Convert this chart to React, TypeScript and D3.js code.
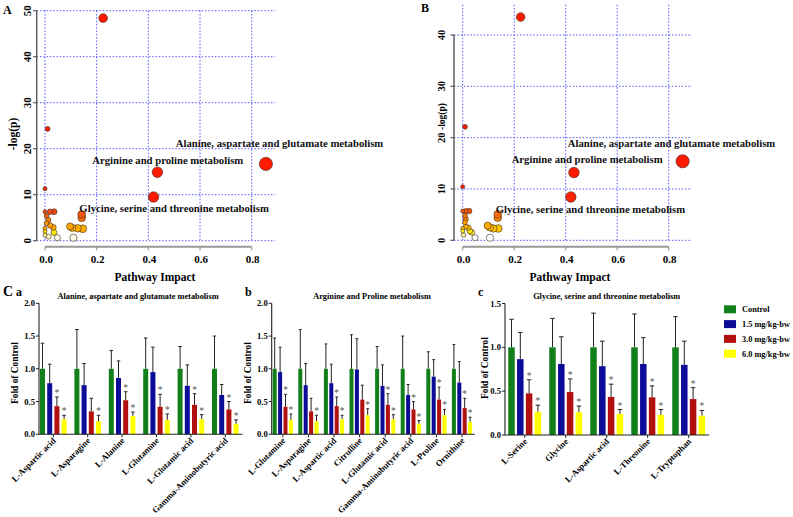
import React from "react";
import * as d3 from "d3";

const W = 793;
const H = 517;
const FONT = "'Liberation Serif', 'Times New Roman', serif";

// ---------- Panel A / B : pathway analysis ----------
const impactA = [0.225, 0.01, 0.0, 0.435, 0.42, 0.855, 0.0, 0.02, 0.035, 0.006, 0.013, 0.006, 0.02, 0.032, 0.0, 0.0, 0.0, 0.035, 0.014, 0.048, 0.11, 0.097, 0.105, 0.126, 0.146, 0.142, 0.142];
const logpA = [48.4, 24.3, 11.3, 14.9, 9.5, 16.7, 6.3, 6.3, 6.3, 5.4, 4.5, 3.8, 3.3, 2.9, 2.7, 2.0, 1.2, 1.8, 0.9, 0.65, 0.65, 3.1, 2.8, 2.7, 2.6, 5.0, 5.7];
const impactB = [0.225, 0.009, 0.0, 0.432, 0.42, 0.854, 0.0, 0.012, 0.025, 0.009, 0.012, 0.009, 0.012, 0.022, 0.0, 0.0, 0.028, 0.035, 0.003, 0.048, 0.106, 0.097, 0.106, 0.119, 0.138, 0.136, 0.136];
const logpB = [43.5, 22.1, 10.45, 13.2, 8.44, 15.4, 5.7, 5.7, 5.7, 4.8, 4.15, 3.5, 2.65, 2.45, 2.3, 1.8, 1.8, 1.55, 1.03, 0.5, 0.5, 2.85, 2.5, 2.3, 2.3, 4.4, 5.05];
const impactTicks = [0, 0.2, 0.4, 0.6, 0.8];
const logpTicksA = [0, 10, 20, 30, 40, 50];
const logpTicksB = [0, 10, 20, 30, 40];
const pathwayNames = [
  "Alanine, aspartate and glutamate metabolism",
  "Arginine and proline metabolism",
  "Glycine, serine and threonine metabolism",
];
const annotImpactA = [0.506, 0.183, 0.133];
const annotLogpA = [20.43, 16.67, 6.3];
const annotImpactB = [0.408, 0.19, 0.128];
const annotLogpB = [18.25, 15.13, 5.26];

// ---------- Panel C : bar charts ----------
const seriesNames = ["Control", "1.5 mg/kg-bw", "3.0 mg/kg-bw", "6.0 mg/kg-bw"];
const seriesColors = ["#12801a", "#0c0c98", "#b2100f", "#ffff00"];

const catsCa = ["L-Aspartic acid", "L-Asparagine", "L-Alanine", "L-Glutamine", "L-Glutamic acid", "Gamma-Aminobutyric acid"];
const meanCa = [
  [1.0, 0.78, 0.43, 0.23],
  [1.0, 0.75, 0.35, 0.2],
  [1.0, 0.86, 0.52, 0.28],
  [1.0, 0.95, 0.42, 0.22],
  [1.0, 0.74, 0.45, 0.23],
  [1.0, 0.6, 0.38, 0.16],
];
const upperCa = [
  [1.39, 1.07, 0.57, 0.29],
  [1.6, 1.08, 0.55, 0.29],
  [1.28, 1.12, 0.65, 0.34],
  [1.47, 1.33, 0.61, 0.31],
  [1.34, 1.06, 0.62, 0.3],
  [1.5, 0.76, 0.5, 0.22],
];
const sigCa = [
  [0, 0, 1, 1],
  [0, 0, 0, 1],
  [0, 0, 1, 1],
  [0, 0, 1, 1],
  [0, 0, 1, 1],
  [0, 0, 1, 1],
];

const catsCb = ["L-Glutamine", "L-Asparagine", "L-Aspartic acid", "Citrulline", "L-Glutamic acid", "Gamma-Aminobutyric acid", "L-Proline", "Ornithine"];
const meanCb = [
  [1.0, 0.95, 0.42, 0.22],
  [1.0, 0.75, 0.35, 0.2],
  [1.0, 0.78, 0.43, 0.23],
  [1.0, 0.99, 0.53, 0.29],
  [1.0, 0.74, 0.45, 0.23],
  [1.0, 0.6, 0.38, 0.16],
  [1.0, 0.88, 0.53, 0.29],
  [1.0, 0.79, 0.4, 0.19],
];
const upperCb = [
  [1.47, 1.33, 0.61, 0.31],
  [1.6, 1.08, 0.55, 0.29],
  [1.38, 1.07, 0.57, 0.29],
  [1.52, 1.46, 0.75, 0.39],
  [1.34, 1.06, 0.62, 0.3],
  [1.5, 0.76, 0.5, 0.21],
  [1.26, 1.14, 0.72, 0.38],
  [1.37, 1.11, 0.55, 0.26],
];
const sigCb = [
  [0, 0, 1, 1],
  [0, 0, 0, 1],
  [0, 0, 1, 1],
  [0, 0, 0, 1],
  [0, 0, 1, 1],
  [0, 0, 1, 1],
  [0, 0, 1, 1],
  [0, 0, 1, 1],
];

const catsCc = ["L-Serine", "Glycine", "L-Aspartic acid", "L-Threonine", "L-Tryptophan"];
const meanCc = [
  [1.0, 0.865, 0.475, 0.265],
  [1.0, 0.81, 0.49, 0.26],
  [1.0, 0.785, 0.434, 0.24],
  [1.0, 0.81, 0.43, 0.23],
  [1.0, 0.8, 0.41, 0.22],
];
const upperCc = [
  [1.32, 1.17, 0.63, 0.34],
  [1.33, 1.12, 0.64, 0.33],
  [1.39, 1.07, 0.58, 0.29],
  [1.38, 1.11, 0.56, 0.29],
  [1.35, 1.07, 0.54, 0.28],
];
const sigCc = [
  [0, 0, 1, 1],
  [0, 0, 1, 1],
  [0, 0, 1, 1],
  [0, 0, 1, 1],
  [0, 0, 1, 1],
];
const foldTicksAB = [0, 0.5, 1.0, 1.5, 2.0];
const foldTicksC = [0, 0.5, 1.0, 1.5];

const colorScale = d3
  .scaleLinear<string>()
  .domain([0.5, 1.0, 1.8, 2.6, 4.2, 6, 9])
  .range(["#ffffff", "#fff8b0", "#ffee00", "#ffb000", "#ff8c00", "#f24c10", "#ff1a00"])
  .clamp(true);
const radiusScale = d3.scaleSqrt().domain([0, 0.86]).range([2, 6.6]);

type BubbleProps = {
  impact: number[];
  logp: number[];
  xr: [number, number];
  yr: [number, number];
  yMaxTick: number;
  yTicks: number[];
  gridTop: number;
  axisX: number;
  tickLabelX: number;
  tickFont: number;
  annX: number[];
  annY: number[];
  ylabX: number;
  ylabY: number;
  ylabFont: number;
  letter: string;
  letterX: number;
  letterY: number;
  pathX: number;
};

function BubblePanel(p: BubbleProps) {
  const x = d3.scaleLinear().domain([0, 0.8]).range(p.xr);
  const y = d3.scaleLinear().domain([0, p.yMaxTick]).range(p.yr);
  const gridL = x.invert(p.axisX);
  const gridR = 0.89;
  const axisY = 246.7;
  const pts = p.impact.map((v, i) => ({ ix: v, lp: p.logp[i] }));
  const sorted = [...pts].sort((a, b) => radiusScale(b.ix) - radiusScale(a.ix));
  return (
    <g>
      <text x={p.letterX} y={p.letterY} fontFamily={FONT} fontWeight="bold" fontSize={12}>{p.letter}</text>
      {p.yTicks.map((t) => (
        <line key={"h" + t} x1={x(gridL)} x2={x(gridR)} y1={y(t)} y2={y(t)} stroke="#4646ff" strokeWidth={0.9} strokeDasharray="1.5 1.8" />
      ))}
      {impactTicks.map((t) => (
        <line key={"v" + t} x1={x(t)} x2={x(t)} y1={y(p.gridTop)} y2={y(0)} stroke="#4646ff" strokeWidth={0.9} strokeDasharray="1.5 1.8" />
      ))}
      <line x1={p.axisX} x2={p.axisX} y1={y(p.yTicks[p.yTicks.length - 1])} y2={y(0)} stroke="#555" strokeWidth={1.4} />
      {p.yTicks.map((t) => (
        <g key={"yt" + t}>
          <line x1={p.axisX - 3.5} x2={p.axisX} y1={y(t)} y2={y(t)} stroke="#555" strokeWidth={1.2} />
          <text transform={`translate(${p.tickLabelX},${y(t)}) rotate(-90)`} textAnchor="middle" fontFamily={FONT} fontWeight="bold" fontSize={p.tickFont}>{t}</text>
        </g>
      ))}
      <line x1={x(0)} x2={x(0.8)} y1={axisY} y2={axisY} stroke="#999" strokeWidth={2} />
      {impactTicks.map((t) => (
        <g key={"xt" + t}>
          <line x1={x(t)} x2={x(t)} y1={axisY} y2={axisY + 3.5} stroke="#999" strokeWidth={1.2} />
          <text x={x(t) + 1} y={263} textAnchor="middle" fontFamily={FONT} fontWeight="bold" fontSize={11}>{t.toFixed(1)}</text>
        </g>
      ))}
      <text x={p.pathX} y={281} textAnchor="middle" fontFamily={FONT} fontWeight="bold" fontSize={11.5}>Pathway Impact</text>
      <text transform={`translate(${p.ylabX},${p.ylabY}) rotate(-90)`} textAnchor="middle" fontFamily={FONT} fontWeight="bold" fontSize={p.ylabFont}>-log(p)</text>
      {sorted.map((d, i) => (
        <circle key={"b" + i} cx={x(d.ix)} cy={y(d.lp)} r={radiusScale(d.ix)} fill={colorScale(d.lp)} stroke="#3a2a20" strokeWidth={0.6} />
      ))}
      {pathwayNames.map((n, i) => (
        <text key={"a" + i} x={x(p.annX[i])} y={y(p.annY[i])} fontFamily={FONT} fontWeight="bold" fontSize={10.7} fill="#111">{n}</text>
      ))}
    </g>
  );
}

type BarProps = {
  cats: string[];
  means: number[][];
  uppers: number[][];
  sig: number[][];
  xRange: [number, number];
  yMax: number;
  yRange: [number, number];
  ticks: number[];
  axisX: number;
  pitch: number;
  barW: number;
  title: string;
  titleX: number;
  letter: string;
  letterX: number;
  ylabX: number;
  ylabY: number;
};

function BarPanel(p: BarProps) {
  const x = d3.scaleBand<string>().domain(p.cats).range(p.xRange).padding(0);
  const half = 1.5 * p.pitch + p.barW / 2;
  const sub = d3
    .scaleBand<string>()
    .domain(seriesNames)
    .range([-half, half])
    .paddingInner(1 - p.barW / p.pitch)
    .paddingOuter(0);
  const y = d3.scaleLinear().domain([0, p.yMax]).range(p.yRange);
  const axisY = y(0);
  const xEnd = p.xRange[1];
  return (
    <g>
      <text x={p.letterX} y={296} fontFamily={FONT} fontWeight="bold" fontSize={12}>{p.letter}</text>
      <text x={p.titleX} y={299} textAnchor="middle" fontFamily={FONT} fontWeight="bold" fontSize={8.3}>{p.title}</text>
      <text transform={`translate(${p.ylabX},${p.ylabY}) rotate(-90)`} textAnchor="middle" fontFamily={FONT} fontWeight="bold" fontSize={9.4}>Fold of Control</text>
      {p.cats.map((c, ci) =>
        seriesNames.map((s, si) => {
          const cx = (x(c) as number) + x.bandwidth() / 2;
          const bx = cx + (sub(s) as number);
          const bw = sub.bandwidth();
          const m = p.means[ci][si];
          const u = p.uppers[ci][si];
          const mid = bx + bw / 2;
          return (
            <g key={c + s}>
              <line x1={mid} x2={mid} y1={y(m)} y2={y(u)} stroke="#222" strokeWidth={1} />
              <line x1={mid - bw * 0.35} x2={mid + bw * 0.35} y1={y(u)} y2={y(u)} stroke="#222" strokeWidth={1} />
              <rect x={bx} y={y(m)} width={bw} height={axisY - y(m)} fill={seriesColors[si]} />
              {p.sig[ci][si] ? (
                <text x={mid} y={y(u) - 1} textAnchor="middle" fontFamily={FONT} fontSize={9.5} fill="#555">*</text>
              ) : null}
            </g>
          );
        })
      )}
      <line x1={p.axisX} x2={p.axisX} y1={y(p.ticks[p.ticks.length - 1])} y2={axisY} stroke="#222" strokeWidth={1.1} />
      {p.ticks.map((t) => (
        <g key={"t" + t}>
          <line x1={p.axisX - 3} x2={p.axisX} y1={y(t)} y2={y(t)} stroke="#222" strokeWidth={1} />
          <text x={p.axisX - 4} y={y(t) + 3} textAnchor="end" fontFamily={FONT} fontWeight="bold" fontSize={8.6}>{t.toFixed(1)}</text>
        </g>
      ))}
      <line x1={p.axisX} x2={xEnd} y1={axisY} y2={axisY} stroke="#222" strokeWidth={1.1} />
      {p.cats.map((c) => {
        const cx = (x(c) as number) + x.bandwidth() / 2;
        return (
          <g key={"xl" + c}>
            <line x1={cx} x2={cx} y1={axisY} y2={axisY + 3} stroke="#222" strokeWidth={1} />
            <text transform={`translate(${cx + 3},${axisY + 7}) rotate(-45)`} textAnchor="end" fontFamily={FONT} fontWeight="bold" fontSize={8.7}>{c}</text>
          </g>
        );
      })}
    </g>
  );
}

export default function App() {
  return (
    <svg width={W} height={H} style={{ position: "absolute", left: 0, top: 0, background: "#fff" }}>
      <rect width={W} height={H} fill="#fff" />
      <BubblePanel
        impact={impactA}
        logp={logpA}
        xr={[45, 251.7]}
        yr={[240.7, 10.7]}
        yMaxTick={50}
        yTicks={logpTicksA}
        gridTop={50}
        axisX={36.7}
        tickLabelX={31}
        tickFont={11}
        annX={annotImpactA}
        annY={annotLogpA}
        ylabX={17}
        ylabY={134}
        ylabFont={11.5}
        letter="A"
        letterX={3}
        letterY={14}
        pathX={155}
      />
      <BubblePanel
        impact={impactB}
        logp={logpB}
        xr={[462.7, 668.7]}
        yr={[240.3, 35]}
        yMaxTick={40}
        yTicks={logpTicksB}
        gridTop={45.9}
        axisX={454}
        tickLabelX={445}
        tickFont={10.5}
        annX={annotImpactB}
        annY={annotLogpB}
        ylabX={445}
        ylabY={116.5}
        ylabFont={9.5}
        letter="B"
        letterX={421}
        letterY={12}
        pathX={570}
      />
      <text x={3} y={296} fontFamily={FONT} fontWeight="bold" fontSize={14}>C</text>
      <BarPanel
        cats={catsCa}
        means={meanCa}
        uppers={upperCa}
        sig={sigCa}
        xRange={[36.1, 242.5]}
        yMax={2}
        yRange={[434.3, 303.3]}
        ticks={foldTicksAB}
        axisX={39}
        pitch={7.2}
        barW={5}
        title="Alanine, aspartate and glutamate metabolism"
        titleX={138}
        letter="a"
        letterX={16}
        ylabX={18}
        ylabY={373}
      />
      <BarPanel
        cats={catsCb}
        means={meanCb}
        uppers={upperCb}
        sig={sigCb}
        xRange={[270, 474.8]}
        yMax={2}
        yRange={[434.3, 303.3]}
        ticks={foldTicksAB}
        axisX={271.7}
        pitch={5.4}
        barW={4}
        title="Arginine and Proline metabolism"
        titleX={372}
        letter="b"
        letterX={245}
        ylabX={251}
        ylabY={373}
      />
      <BarPanel
        cats={catsCc}
        means={meanCc}
        uppers={upperCc}
        sig={sigCc}
        xRange={[504.2, 709.2]}
        yMax={1.5}
        yRange={[435, 303.5]}
        ticks={foldTicksC}
        axisX={505}
        pitch={8.8}
        barW={6.5}
        title="Glycine, serine and threonine metabolism"
        titleX={606.7}
        letter="c"
        letterX={478}
        ylabX={488}
        ylabY={368}
      />
      {seriesNames.map((s, i) => (
        <g key={"lg" + s}>
          <rect x={724} y={305.3 + i * 14.8} width={12} height={8} fill={seriesColors[i]} />
          <text x={742} y={312.3 + i * 14.8} fontFamily={FONT} fontWeight="bold" fontSize={8.3}>{s}</text>
        </g>
      ))}
    </svg>
  );
}
